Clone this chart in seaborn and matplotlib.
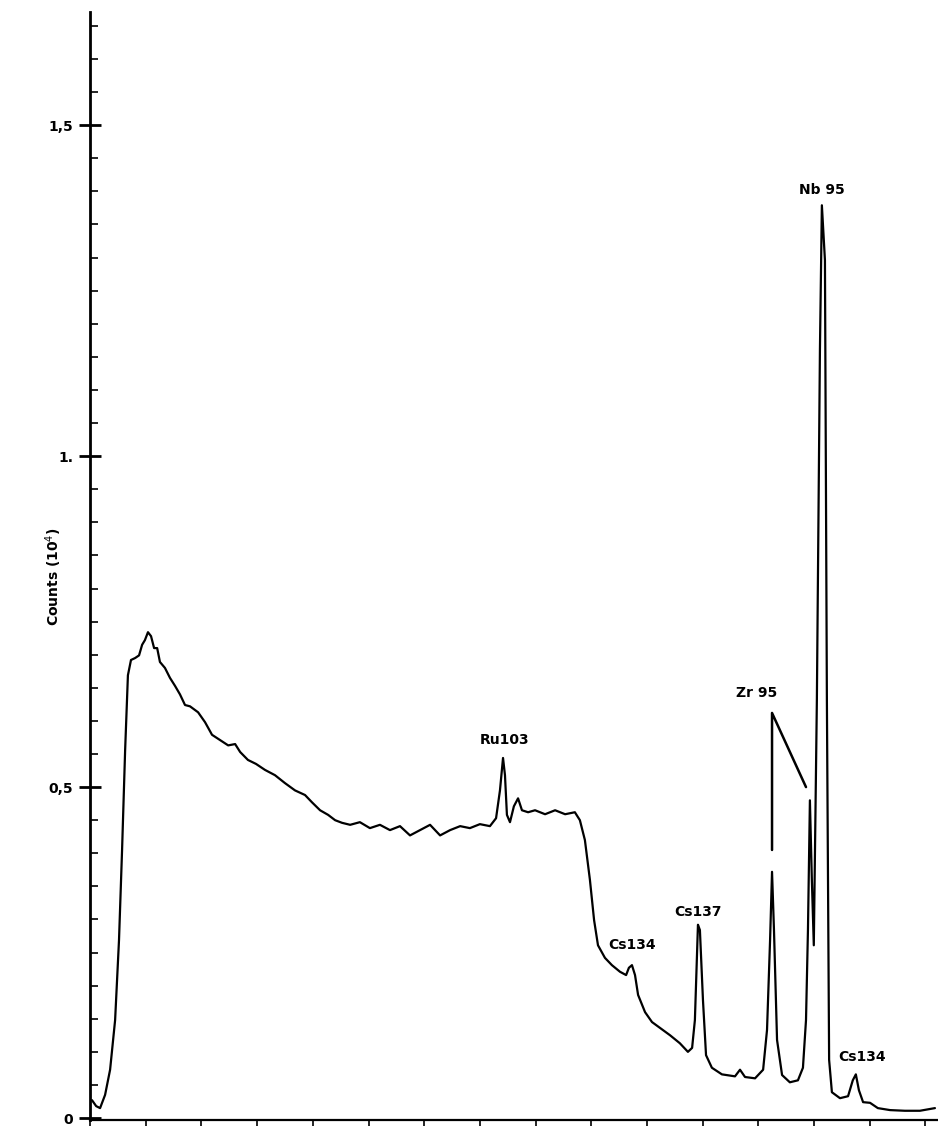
import matplotlib
matplotlib.use("Agg")
import matplotlib.pyplot as plt
import seaborn as sns
import pandas as pd

# gamma spectrum (channel, counts in units of 10^4)
channel = [0.7, 2.2, 3.6, 5.4, 7.2, 9.0, 10.4, 11.5, 12.6, 13.6, 14.7, 16.2, 17.6, 18.7, 19.7,
           20.8, 21.9, 23.0, 24.1, 25.1, 26.9, 28.7, 30.5, 32.3, 34.1, 35.9, 38.8, 41.3, 43.8,
           46.7, 49.6, 52.1, 53.9, 56.7, 59.6, 62.8, 66.4, 70.0, 73.6, 77.2, 79.7, 82.6, 85.5,
           88.0, 90.5, 93.4, 96.9, 100.5, 104.1, 107.7, 111.3, 114.9, 118.5, 122.1, 125.7,
           129.3, 132.9, 136.4, 140.0, 143.6, 145.8, 147.2, 148.3, 149.0, 149.7, 150.8, 152.2,
           153.7, 155.1, 157.3, 159.8, 163.4, 167.0, 170.6, 174.1, 175.9, 177.7, 179.5, 181.0,
           182.4, 184.9, 187.4, 190.3, 192.5, 193.5, 194.6, 195.7, 196.8, 199.3, 201.8, 204.7,
           208.3, 211.8, 214.7, 216.2, 217.2, 218.3, 219.0, 220.1, 221.2, 223.3, 226.9, 231.6,
           233.4, 235.2, 238.8, 241.7, 243.1, 244.2, 244.9, 245.6, 246.7, 248.5, 251.3, 254.2,
           256.0, 257.1, 257.8, 258.5, 259.2, 259.9, 261.0, 262.1, 262.8, 263.9, 264.6, 265.4,
           266.4, 269.3, 272.2, 273.9, 275.0, 276.1, 277.6, 280.1, 282.9, 287.3, 292.6, 298.0,
           303.4]
counts = [0.027, 0.018, 0.015, 0.035, 0.073, 0.148, 0.269, 0.405, 0.556, 0.669, 0.692, 0.695,
          0.699, 0.715, 0.722, 0.734, 0.728, 0.710, 0.710, 0.689, 0.680, 0.665, 0.653, 0.640,
          0.624, 0.622, 0.613, 0.598, 0.579, 0.571, 0.563, 0.565, 0.553, 0.541, 0.535, 0.526,
          0.518, 0.506, 0.495, 0.488, 0.477, 0.465, 0.458, 0.450, 0.446, 0.443, 0.447, 0.438,
          0.443, 0.435, 0.441, 0.427, 0.435, 0.443, 0.427, 0.435, 0.441, 0.438, 0.444, 0.441,
          0.453, 0.495, 0.544, 0.518, 0.458, 0.447, 0.471, 0.483, 0.465, 0.462, 0.465, 0.459,
          0.465, 0.459, 0.462, 0.450, 0.420, 0.360, 0.299, 0.261, 0.242, 0.231, 0.221, 0.216,
          0.227, 0.231, 0.216, 0.186, 0.160, 0.145, 0.136, 0.125, 0.113, 0.100, 0.106, 0.148,
          0.292, 0.284, 0.178, 0.095, 0.076, 0.066, 0.063, 0.073, 0.062, 0.060, 0.073, 0.133,
          0.269, 0.372, 0.284, 0.118, 0.065, 0.054, 0.057, 0.076, 0.148, 0.284, 0.480, 0.360,
          0.261, 0.631, 1.160, 1.379, 1.296, 0.631, 0.088, 0.039, 0.030, 0.033, 0.057, 0.066,
          0.042, 0.024, 0.023, 0.015, 0.012, 0.011, 0.011, 0.015]

# peak labels
peak_names = ["Ru103", "Cs134", "Cs137", "Zr 95", "Nb 95", "Cs134"]
peak_x = [149.0, 194.6, 218.3, 239.5, 262.8, 277.2]
peak_y = [0.571, 0.261, 0.311, 0.642, 1.402, 0.092]

# Zr 95 pointer lines (two lines from one label)
zr_x = [244.9, 244.9, 257.1]
zr_y = [0.405, 0.612, 0.500]

y_ticks = [0, 0.5, 1.0, 1.5]
y_labels = ["0", "0,5", "1.", "1,5"]

df = pd.DataFrame({"channel": channel, "counts": counts})

sns.set_style("ticks", {"axes.edgecolor": "black", "xtick.color": "black",
                        "ytick.color": "black", "text.color": "black",
                        "axes.labelcolor": "black"})
fig = plt.figure(figsize=(9.38, 11.31), dpi=100)
ax = fig.add_axes([0.096, 0.0097, 0.904, 0.9797])

sns.lineplot(data=df, x="channel", y="counts", ax=ax, color="black", lw=1.6,
             sort=False, estimator=None)
ax.plot(zr_x, zr_y, color="black", lw=1.8)

for name, px, py in zip(peak_names, peak_x, peak_y):
    ax.text(px, py, name, ha="center", va="center", fontsize=10, fontweight="bold",
            color="black")

ax.set_xlim(0, 304.5)
ax.set_ylim(-0.003, 1.671)
ax.set_xticks(range(0, 301, 20))
ax.set_xticklabels([])
ax.set_yticks(y_ticks)
ax.set_yticklabels(y_labels, fontsize=10, fontweight="bold")
ax.set_yticks([i * 0.05 for i in range(34) if i % 10 != 0], minor=True)
ax.tick_params(axis="y", which="major", direction="inout", length=16, width=2, pad=4)
ax.tick_params(axis="y", which="minor", direction="in", length=6, width=1.2)
ax.tick_params(axis="x", which="major", direction="out", length=4, width=1.2)

ax.set_xlabel("")
ax.set_ylabel("Counts (10$^4$)", fontsize=10, fontweight="bold", labelpad=14)
ax.yaxis.set_label_coords(-0.031, 0.49)

sns.despine(ax=ax)
ax.spines["left"].set_linewidth(2)
ax.spines["bottom"].set_linewidth(1.6)

fig.savefig("out.png", dpi=100)
